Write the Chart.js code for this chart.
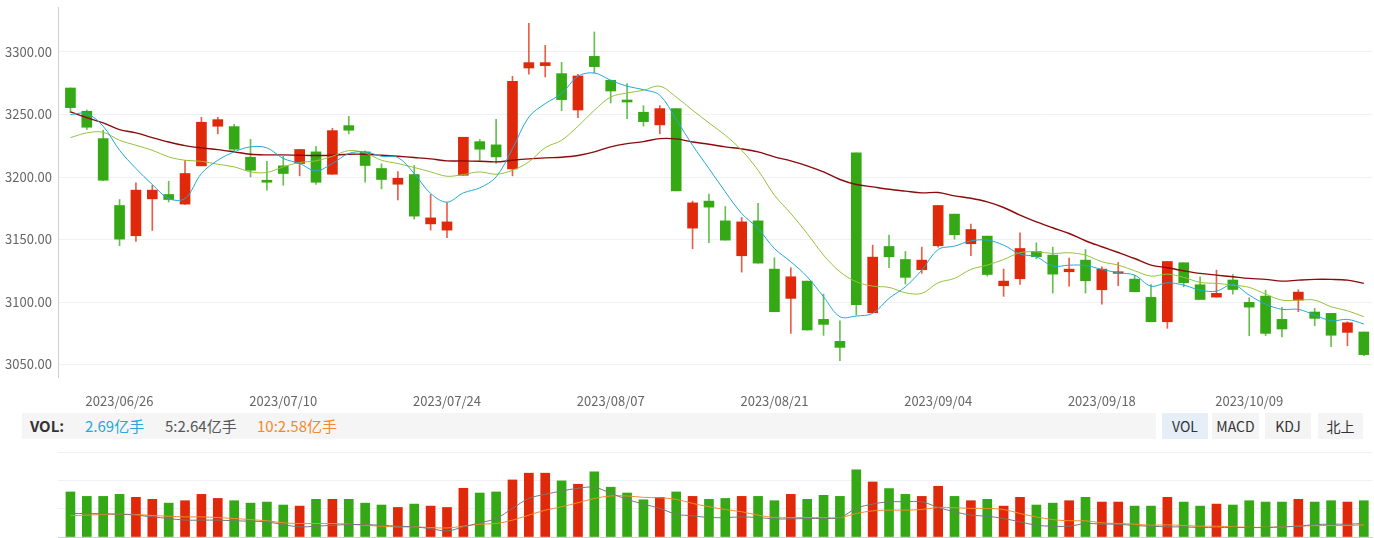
<!DOCTYPE html>
<html>
<head>
<meta charset="utf-8">
<script src="https://cdn.jsdelivr.net/npm/chart.js@4.4.0/dist/chart.umd.min.js"></script>
<style>
    body { margin: 0; width: 1374px; height: 538px; background: #fff; overflow: hidden; position: relative; font-family: "Noto Sans CJK SC", sans-serif; }
    .volbar { position: absolute; left: 22px; top: 413px; width: 1134px; height: 26px; background: #f5f5f5; }
    .vt { position: absolute; top: 413px; height: 26px; line-height: 26px; font-size: 15px; white-space: nowrap; }
    .btn { position: absolute; top: 413px; height: 26px; line-height: 26px; font-size: 14px; color: #333; text-align: center; background: #f4f4f4; }
    .btn.on { background: #e6eef8; }
</style>
</head>
<body>
<canvas id="kChart" width="1374" height="412" style="position:absolute;left:0;top:0"></canvas>
<div class="volbar"></div>
<span class="vt" style="left:30px;color:#333;font-weight:bold">VOL:</span>
<span class="vt" style="left:85px;color:#27a7da">2.69亿手</span>
<span class="vt" style="left:165px;color:#555">5:2.64亿手</span>
<span class="vt" style="left:257px;color:#f08a2c">10:2.58亿手</span>
<div class="btn on" style="left:1162px;width:46px">VOL</div>
<div class="btn" style="left:1212px;width:47px">MACD</div>
<div class="btn" style="left:1265px;width:46px">KDJ</div>
<div class="btn" style="left:1318px;width:45px">北上</div>
<canvas id="volChart" width="1374" height="93" style="position:absolute;left:0;top:445px"></canvas>
<script>
// trading days shown
var dates = [
    "2023/06/19", "2023/06/20", "2023/06/21", "2023/06/26", "2023/06/27", "2023/06/28", "2023/06/29", "2023/06/30",
    "2023/07/03", "2023/07/04", "2023/07/05", "2023/07/06", "2023/07/07", "2023/07/10", "2023/07/11", "2023/07/12",
    "2023/07/13", "2023/07/14", "2023/07/17", "2023/07/18", "2023/07/19", "2023/07/20", "2023/07/21", "2023/07/24",
    "2023/07/25", "2023/07/26", "2023/07/27", "2023/07/28", "2023/07/31", "2023/08/01", "2023/08/02", "2023/08/03",
    "2023/08/04", "2023/08/07", "2023/08/08", "2023/08/09", "2023/08/10", "2023/08/11", "2023/08/14", "2023/08/15",
    "2023/08/16", "2023/08/17", "2023/08/18", "2023/08/21", "2023/08/22", "2023/08/23", "2023/08/24", "2023/08/25",
    "2023/08/28", "2023/08/29", "2023/08/30", "2023/08/31", "2023/09/01", "2023/09/04", "2023/09/05", "2023/09/06",
    "2023/09/07", "2023/09/08", "2023/09/11", "2023/09/12", "2023/09/13", "2023/09/14", "2023/09/15", "2023/09/18",
    "2023/09/19", "2023/09/20", "2023/09/21", "2023/09/22", "2023/09/25", "2023/09/26", "2023/09/27", "2023/09/28",
    "2023/10/09", "2023/10/10", "2023/10/11", "2023/10/12", "2023/10/13", "2023/10/16", "2023/10/17", "2023/10/18"
];
var tickLabels = ["2023/06/26", "2023/07/10", "2023/07/24", "2023/08/07", "2023/08/21", "2023/09/04", "2023/09/18", "2023/10/09"];
var priceTicks = [3050, 3100, 3150, 3200, 3250, 3300];

var opens = [
    3271.2, 3252.6, 3230.7, 3177.2, 3153.0, 3182.5, 3186.0, 3178.3, 3208.9, 3240.6,
    3240.3, 3215.8, 3197.4, 3208.9, 3210.8, 3220.1, 3202.2, 3241.1, 3220.1, 3206.8,
    3194.2, 3202.0, 3162.5, 3157.5, 3201.4, 3228.3, 3225.7, 3206.5, 3287.2, 3289.1,
    3282.7, 3253.6, 3296.5, 3277.4, 3261.6, 3251.8, 3241.7, 3254.7, 3159.1, 3180.7,
    3164.9, 3137.0, 3164.9, 3126.3, 3102.9, 3116.7, 3086.1, 3068.5, 3219.3, 3091.4,
    3144.4, 3134.0, 3125.8, 3145.0, 3170.3, 3146.6, 3152.7, 3113.0, 3118.6, 3140.4,
    3137.5, 3124.2, 3133.5, 3109.8, 3122.9, 3118.3, 3103.7, 3084.2, 3131.4, 3113.8,
    3103.9, 3117.6, 3099.7, 3104.7, 3086.1, 3101.5, 3092.0, 3090.9, 3075.7, 3076.0
];
var closes = [
    3255.5, 3239.8, 3197.4, 3150.3, 3189.5, 3189.5, 3182.0, 3202.8, 3243.8, 3245.9,
    3222.2, 3205.4, 3195.8, 3202.8, 3222.0, 3195.8, 3237.1, 3237.4, 3209.2, 3198.0,
    3199.0, 3168.7, 3167.3, 3164.1, 3231.8, 3222.2, 3216.1, 3276.6, 3291.5, 3291.5,
    3261.9, 3280.8, 3288.3, 3268.8, 3260.0, 3244.3, 3254.7, 3188.9, 3179.3, 3175.9,
    3149.5, 3164.1, 3131.1, 3092.2, 3120.2, 3077.6, 3082.1, 3063.7, 3097.8, 3135.9,
    3136.2, 3119.7, 3133.5, 3177.2, 3153.8, 3158.0, 3122.0, 3116.7, 3142.8, 3136.2,
    3122.3, 3126.3, 3117.0, 3126.3, 3124.2, 3108.2, 3084.2, 3132.4, 3115.4, 3102.0,
    3106.9, 3110.0, 3095.9, 3074.9, 3078.4, 3107.9, 3086.9, 3073.4, 3083.4, 3057.9
];
var highs = [
    3271.2, 3253.6, 3237.4, 3182.0, 3195.3, 3193.4, 3196.6, 3213.4, 3247.8, 3247.8,
    3242.2, 3230.2, 3212.6, 3216.6, 3222.0, 3224.6, 3239.0, 3248.6, 3220.9, 3210.5,
    3204.4, 3209.2, 3186.0, 3179.6, 3231.8, 3230.0, 3246.2, 3280.6, 3322.9, 3305.3,
    3291.7, 3282.2, 3316.0, 3277.4, 3274.7, 3257.1, 3257.1, 3254.7, 3180.7, 3186.3,
    3176.4, 3167.6, 3179.0, 3135.4, 3127.4, 3116.7, 3106.3, 3085.0, 3219.3, 3145.5,
    3153.5, 3140.4, 3143.9, 3177.2, 3170.3, 3162.3, 3152.7, 3126.3, 3155.4, 3147.4,
    3143.9, 3135.1, 3142.0, 3128.2, 3131.6, 3121.3, 3114.0, 3132.4, 3131.4, 3120.2,
    3125.5, 3122.0, 3103.4, 3109.5, 3095.7, 3109.8, 3094.9, 3090.9, 3084.2, 3076.0
];
var lows = [
    3251.5, 3238.0, 3197.0, 3145.0, 3148.4, 3157.2, 3180.0, 3178.0, 3208.9, 3234.5,
    3220.0, 3200.1, 3189.5, 3193.4, 3200.9, 3194.0, 3202.2, 3234.5, 3195.8, 3190.5,
    3181.7, 3166.3, 3157.5, 3151.4, 3201.4, 3213.4, 3210.8, 3200.9, 3282.2, 3280.0,
    3253.1, 3247.5, 3283.2, 3259.2, 3246.7, 3240.6, 3234.5, 3188.9, 3142.6, 3147.4,
    3149.5, 3123.9, 3131.1, 3092.2, 3074.9, 3077.6, 3073.3, 3053.1, 3089.6, 3091.4,
    3127.4, 3114.3, 3122.9, 3143.9, 3150.3, 3137.0, 3120.7, 3104.5, 3114.0, 3134.6,
    3107.1, 3112.7, 3107.1, 3098.3, 3113.0, 3108.2, 3084.2, 3078.9, 3112.2, 3102.0,
    3103.9, 3106.3, 3073.0, 3073.0, 3072.0, 3092.2, 3081.0, 3064.3, 3065.0, 3057.1
];
var ma5 = [
    3250.0, 3250.7, 3240.6, 3221.4, 3206.8, 3194.0, 3182.8, 3182.8, 3202.8, 3213.4,
    3220.1, 3224.1, 3223.3, 3214.8, 3210.8, 3204.9, 3210.8, 3218.8, 3220.1, 3216.6,
    3215.6, 3202.8, 3186.8, 3179.9, 3187.3, 3191.3, 3200.1, 3222.7, 3248.0, 3258.7,
    3266.7, 3280.6, 3283.2, 3277.4, 3272.6, 3269.9, 3265.4, 3246.0, 3225.4, 3206.8,
    3188.1, 3170.8, 3158.8, 3142.8, 3132.2, 3120.2, 3104.2, 3088.2, 3088.8, 3090.9,
    3102.9, 3112.2, 3125.5, 3142.0, 3144.7, 3148.9, 3149.5, 3145.5, 3138.3, 3136.2,
    3128.7, 3129.5, 3129.2, 3126.1, 3123.4, 3121.5, 3112.7, 3115.4, 3113.5, 3109.5,
    3108.7, 3114.0, 3105.5, 3098.3, 3094.1, 3094.1, 3089.6, 3085.0, 3086.1, 3082.4
];
var ma10 = [
    3231.5, 3235.3, 3235.8, 3229.4, 3225.4, 3221.4, 3216.1, 3213.4, 3212.6, 3210.2,
    3208.1, 3204.1, 3203.6, 3208.1, 3211.6, 3212.9, 3216.6, 3221.1, 3219.3, 3213.4,
    3210.8, 3207.6, 3204.1, 3200.6, 3202.0, 3204.1, 3202.2, 3205.4, 3212.1, 3223.5,
    3229.4, 3240.6, 3253.4, 3264.0, 3267.2, 3269.4, 3272.6, 3264.0, 3253.4, 3243.3,
    3233.4, 3221.4, 3205.4, 3185.5, 3170.8, 3154.8, 3137.5, 3124.2, 3116.2, 3112.7,
    3111.7, 3107.4, 3106.9, 3115.4, 3118.9, 3126.1, 3129.5, 3134.0, 3139.4, 3140.2,
    3138.8, 3139.4, 3137.5, 3132.2, 3129.5, 3125.0, 3120.7, 3122.3, 3119.7, 3115.7,
    3114.9, 3113.5, 3111.7, 3106.3, 3101.5, 3101.5, 3101.5, 3096.2, 3093.0, 3088.2
];
var ma30 = [
    3252.1, 3247.5, 3243.3, 3237.9, 3235.3, 3231.5, 3228.0, 3225.1, 3223.3, 3221.9,
    3220.1, 3218.2, 3217.7, 3217.7, 3217.4, 3217.2, 3217.4, 3218.2, 3218.2, 3217.4,
    3216.6, 3215.6, 3214.5, 3212.9, 3212.9, 3212.6, 3212.1, 3213.4, 3214.5, 3215.3,
    3215.8, 3217.2, 3220.1, 3224.1, 3226.7, 3228.3, 3230.7, 3230.5, 3228.0, 3226.2,
    3224.1, 3222.5, 3220.1, 3216.1, 3212.9, 3208.9, 3204.1, 3198.0, 3194.0, 3192.1,
    3190.2, 3188.7, 3187.3, 3187.6, 3184.9, 3183.0, 3180.1, 3175.6, 3169.5, 3164.1,
    3159.4, 3154.8, 3149.0, 3144.2, 3139.6, 3134.8, 3129.5, 3127.4, 3125.0, 3122.9,
    3121.5, 3120.2, 3118.9, 3118.1, 3116.7, 3117.5, 3118.1, 3118.1, 3117.5, 3114.9
];

// volume, 亿手
var volumes = [
    3.34, 3.01, 3.01, 3.16, 2.94, 2.79, 2.51, 2.69, 3.16, 2.86,
    2.69, 2.51, 2.59, 2.37, 2.29, 2.79, 2.79, 2.79, 2.51, 2.37,
    2.19, 2.44, 2.29, 2.19, 3.61, 3.26, 3.34, 4.23, 4.73, 4.73,
    4.16, 3.91, 4.83, 3.69, 3.26, 2.76, 2.94, 3.34, 3.01, 2.79,
    2.86, 3.01, 3.01, 2.69, 3.16, 2.79, 3.09, 3.01, 4.98, 4.08,
    3.59, 3.16, 3.01, 3.76, 3.01, 2.69, 2.79, 2.29, 2.94, 2.37,
    2.51, 2.69, 2.94, 2.59, 2.59, 2.29, 2.29, 2.94, 2.59, 2.29,
    2.44, 2.37, 2.69, 2.59, 2.59, 2.79, 2.59, 2.69, 2.59, 2.69
];
var volMa5 = [
    1.74, 1.74, 1.72, 1.69, 1.62, 1.49, 1.37, 1.25, 1.25, 1.25,
    1.20, 1.17, 1.12, 0.92, 0.75, 0.80, 0.87, 0.92, 0.92, 0.87,
    0.80, 0.75, 0.62, 0.45, 0.75, 1.05, 1.37, 2.12, 2.86, 3.16,
    3.41, 3.61, 3.69, 3.24, 2.79, 2.44, 2.12, 1.69, 1.57, 1.44,
    1.44, 1.49, 1.44, 1.34, 1.34, 1.37, 1.37, 1.44, 2.12, 2.44,
    2.61, 2.61, 2.61, 2.19, 1.87, 1.62, 1.54, 1.37, 1.12, 0.87,
    0.80, 0.80, 1.00, 0.95, 0.95, 0.85, 0.80, 0.75, 0.75, 0.70,
    0.70, 0.70, 0.70, 0.70, 0.75, 0.80, 0.92, 0.95, 0.95, 1.00
];
var volMa10 = [
    1.59, 1.62, 1.67, 1.69, 1.67, 1.59, 1.54, 1.49, 1.49, 1.44,
    1.37, 1.29, 1.20, 1.05, 1.00, 1.00, 1.00, 0.95, 0.87, 0.80,
    0.75, 0.75, 0.70, 0.67, 0.80, 0.95, 1.00, 1.25, 1.62, 1.99,
    2.24, 2.54, 2.86, 3.04, 3.04, 2.94, 2.91, 2.79, 2.49, 2.24,
    2.04, 1.87, 1.62, 1.44, 1.44, 1.44, 1.44, 1.44, 1.74, 1.94,
    1.99, 1.99, 2.04, 2.19, 2.17, 2.12, 2.12, 2.04, 1.74, 1.49,
    1.29, 1.20, 1.20, 1.05, 1.00, 0.95, 0.87, 0.90, 0.85, 0.80,
    0.80, 0.75, 0.72, 0.72, 0.75, 0.80, 0.85, 0.85, 0.85, 0.90
];
var volTicks = [0, 2.1, 4.2, 6.3];

var UP = "#e0280a";
var DOWN = "#34a915";
var UP_WICK = "rgba(224,40,10,0.75)";
var DOWN_WICK = "rgba(52,169,21,0.75)";

Chart.defaults.font.family = '"Noto Sans CJK SC", sans-serif';
Chart.defaults.font.size = 12;
Chart.defaults.animation = false;

function pts(arr) {
    return arr.map(function (v, i) { return { x: i, y: v }; });
}
var bodyColor = closes.map(function (c, i) { return c >= opens[i] ? UP : DOWN; });
var wickColor = closes.map(function (c, i) { return c >= opens[i] ? UP_WICK : DOWN_WICK; });

var xMin = -0.76, xMax = 79.5;

function lineSet(data, color, width) {
    return {
        type: "line",
        data: pts(data),
        borderColor: color,
        borderWidth: width,
        pointRadius: 0,
        tension: 0.35,
        fill: false,
        order: 0,
    };
}

// keep the plot edges where we put them, no extra room for tick labels
function fixY(axis) {
    axis.width = 58;
    axis.paddingTop = 0;
    axis.paddingBottom = 0;
}

var kChart = new Chart(document.getElementById("kChart"), {
    type: "bar",
    data: {
        datasets: [
            {
                data: lows.map(function (l, i) { return { x: i, y: [l, highs[i]] }; }),
                backgroundColor: wickColor,
                barThickness: 1,
                grouped: false,
                order: 2,
            },
            {
                data: opens.map(function (o, i) { return { x: i, y: [o, closes[i]] }; }),
                backgroundColor: bodyColor,
                barThickness: 10,
                minBarLength: 1,
                grouped: false,
                order: 1,
            },
            lineSet(ma5, "#20a8d8", 1),
            lineSet(ma10, "#95c23a", 1),
            lineSet(ma30, "#8b0b0b", 1.4),
        ],
    },
    options: {
        responsive: false,
        layout: { padding: { top: 7, right: 2, left: 0, bottom: 0 } },
        plugins: { legend: { display: false }, tooltip: { enabled: false } },
        scales: {
            x: {
                type: "linear",
                offset: false,
                min: xMin,
                max: xMax,
                grid: { display: false, drawTicks: false },
                border: { display: false },
                afterBuildTicks: function (axis) {
                    axis.ticks = tickLabels.map(function (t) { return { value: dates.indexOf(t) }; });
                },
                afterFit: function (axis) {
                    axis.height = 35;
                    axis.paddingLeft = 0;
                    axis.paddingRight = 0;
                },
                ticks: {
                    padding: 16,
                    maxRotation: 0,
                    autoSkip: false,
                    color: "#666",
                    font: { size: 13 },
                    callback: function (v) { return dates[v]; },
                },
            },
            y: {
                min: 3040,
                max: 3336,
                afterBuildTicks: function (axis) {
                    axis.ticks = priceTicks.map(function (v) { return { value: v }; });
                },
                afterFit: fixY,
                grid: { color: "#eef1f5", drawTicks: false },
                border: { display: true, color: "#c8d0dc" },
                ticks: {
                    padding: 6,
                    color: "#666",
                    font: { size: 13 },
                    callback: function (v) { return v.toFixed(2); },
                },
            },
        },
    },
});

var volChart = new Chart(document.getElementById("volChart"), {
    type: "bar",
    data: {
        datasets: [
            {
                data: pts(volumes),
                backgroundColor: bodyColor,
                barThickness: 9,
                grouped: false,
                order: 1,
            },
            lineSet(volMa5, "#777777", 1),
            lineSet(volMa10, "#f28b2c", 1),
        ],
    },
    options: {
        responsive: false,
        layout: { padding: { top: 7, right: 2, left: 0, bottom: 0 } },
        plugins: { legend: { display: false }, tooltip: { enabled: false } },
        scales: {
            x: {
                type: "linear",
                offset: false,
                min: xMin,
                max: xMax,
                grid: { display: false, drawTicks: false },
                border: { display: true, color: "#c8d0dc" },
                ticks: { display: false },
                afterFit: function (axis) { axis.height = 1; },
            },
            y: {
                min: 0,
                max: 6.3,
                afterBuildTicks: function (axis) {
                    axis.ticks = volTicks.map(function (v) { return { value: v }; });
                },
                afterFit: fixY,
                grid: { color: "#eef1f5", drawTicks: false },
                border: { display: false },
                ticks: { display: false },
            },
        },
    },
});
</script>
</body>
</html>
